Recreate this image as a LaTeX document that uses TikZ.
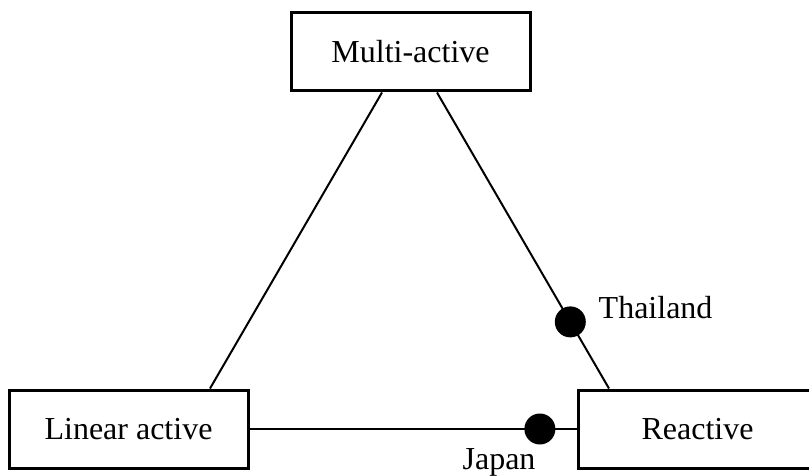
\documentclass[tikz,border=0pt]{standalone}
\usepackage{fontspec}
\setmainfont{Liberation Serif}
\usetikzlibrary{positioning}
\begin{document}
\begin{tikzpicture}[x=0.5pt,y=-0.5pt,
	box/.style={draw,line width=1.5pt,minimum width=119.5pt,minimum height=39pt,inner sep=0pt,font=\fontsize{16}{19}\selectfont},
	dot/.style={circle,fill=black,inner sep=0pt,minimum size=15.5pt},
	tag/.style={inner sep=0pt,font=\fontsize{16}{19}\selectfont}]
	\useasboundingbox (0,0) rectangle (809,476);
	\node[box] (multi) at (410.5,52) {Multi-active};
	\node[box] (linear) at (128.5,429) {Linear active};
	\node[box] (reactive) at (697.5,429) {Reactive};
	\draw[line width=1pt] ([xshift=-14.25pt]multi.south) -- ([xshift=40.75pt]linear.north);
	\draw[line width=1pt] ([xshift=13.25pt]multi.south) -- node[dot,pos=0.775] (thai) {} ([xshift=-44.25pt]reactive.north);
	\draw[line width=1pt] (linear) -- node[dot,pos=0.888] (jp) {} (reactive);
	\node[tag,anchor=base west] (thailabel) at ([xshift=5.75pt,yshift=1.5pt]thai.east) {Thailand};
	\node[tag,anchor=base east] (jplabel) at ([xshift=-2pt,yshift=-20pt]jp.center) {Japan};
\end{tikzpicture}
\end{document}
